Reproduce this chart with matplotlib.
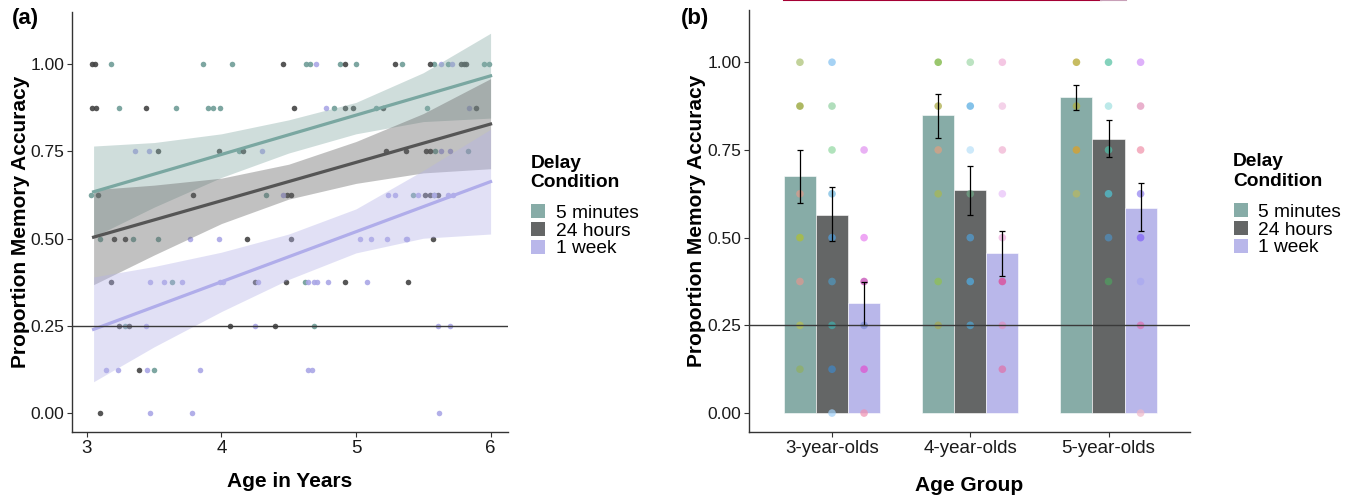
import matplotlib.pyplot as plt
from matplotlib.patches import Patch
from matplotlib.lines import Line2D
import numpy as np

plt.rcParams['font.family'] = ['Liberation Sans', 'DejaVu Sans']

# ---- panel (a): accuracy by age, per delay condition ----
age_5min = [3.18, 3.86, 4.08, 4.63, 4.66, 4.88, 5.00, 5.34, 5.58, 5.68, 5.95, 5.99,
            3.24, 3.66, 3.90, 3.94, 3.99, 4.84, 5.15, 5.53,
            4.13, 5.59, 5.83,
            3.03, 4.33, 5.42, 5.58,
            3.10, 3.34, 3.53,
            3.63, 4.62,
            3.28, 4.69,
            3.50]
acc_5min = [1.0] * 12 + [0.875] * 8 + [0.75] * 3 + [0.625] * 4 + [0.5] * 3 + [0.375] * 2 + [0.25] * 2 + [0.125]

age_24h = [3.04, 3.06, 4.46, 4.92, 5.29, 5.55, 5.78, 5.80, 5.82,
           3.04, 3.07, 3.44, 4.54, 4.92, 4.98, 5.20, 5.89,
           3.53, 3.98, 4.16, 5.22, 5.37, 5.52, 5.55,
           3.08, 3.79, 4.49, 4.52, 5.51, 5.55, 5.61,
           3.20, 3.28, 4.19, 4.52, 5.57,
           3.18, 4.25, 4.48, 4.92, 5.39,
           3.24, 3.31, 4.06, 4.40,
           3.39,
           3.10]
acc_24h = [1.0] * 9 + [0.875] * 8 + [0.75] * 7 + [0.625] * 7 + [0.5] * 5 + [0.375] * 5 + [0.25] * 4 + [0.125] + [0.0]

age_1wk = [4.70, 5.63, 5.71,
           4.78, 5.84,
           3.36, 3.46, 4.30, 5.63, 5.70,
           4.46, 5.24, 5.29, 5.46, 5.58, 5.68, 5.72,
           3.77, 3.98, 5.03, 5.11, 5.23, 5.37, 5.38,
           3.47, 3.57, 3.71, 3.99, 4.01, 4.27, 4.64, 4.69, 4.71, 4.79, 5.08,
           3.44, 4.25, 5.61, 5.70,
           3.14, 3.23, 3.45, 3.84, 4.64, 4.67,
           3.47, 3.78, 5.62]
acc_1wk = [1.0] * 3 + [0.875] * 2 + [0.75] * 5 + [0.625] * 7 + [0.5] * 7 + [0.375] * 11 + [0.25] * 4 + [0.125] * 6 + [0.0] * 3

# fitted lines and confidence bands
fit_x = [3.05, 6.0]
fit_5min = [0.634, 0.966]
fit_24h = [0.504, 0.828]
fit_1wk = [0.240, 0.663]

band_x = [3.05, 3.5, 4.0, 4.5, 5.0, 5.5, 6.0]
lo_5min = [0.505, 0.590, 0.675, 0.745, 0.800, 0.835, 0.845]
hi_5min = [0.765, 0.775, 0.800, 0.840, 0.890, 0.975, 1.088]
lo_24h = [0.368, 0.453, 0.543, 0.613, 0.658, 0.688, 0.700]
hi_24h = [0.640, 0.653, 0.673, 0.713, 0.778, 0.858, 0.958]
lo_1wk = [0.090, 0.190, 0.291, 0.383, 0.459, 0.501, 0.513]
hi_1wk = [0.390, 0.420, 0.461, 0.513, 0.585, 0.695, 0.813]

# ---- panel (b): mean accuracy by age group ----
groups = ['3-year-olds', '4-year-olds', '5-year-olds']
mean_5min = [0.675, 0.850, 0.900]
mean_24h = [0.565, 0.635, 0.780]
mean_1wk = [0.315, 0.455, 0.585]
err_lo_5min = [0.600, 0.785, 0.865]
err_hi_5min = [0.750, 0.910, 0.935]
err_lo_24h = [0.490, 0.565, 0.730]
err_hi_24h = [0.645, 0.705, 0.835]
err_lo_1wk = [0.250, 0.390, 0.520]
err_hi_1wk = [0.375, 0.520, 0.655]

# individual dots: values and colours per bar
dots_3_5min = [1.0, 0.875, 0.625, 0.5, 0.375, 0.25, 0.125]
cols_3_5min = ['#a8c070', '#8a9a20', '#e09a8a', '#b0c030', '#e09890', '#b8c050', '#90b060']
dots_3_24h = [1.0, 0.875, 0.75, 0.625, 0.5, 0.375, 0.25, 0.125, 0.0]
cols_3_24h = ['#80c0f0', '#90d0a0', '#90d8a0', '#70b8e0', '#50a0e0', '#5098c0', '#40b0b0', '#4088c8', '#a0d0f8']
dots_3_1wk = [0.75, 0.5, 0.375, 0.25, 0.125, 0.0]
cols_3_1wk = ['#e090f0', '#e880f0', '#c040b0', '#8090d8', '#e050d0', '#f090b0']
dots_4_5min = [1.0, 0.875, 0.75, 0.625, 0.375, 0.25]
cols_4_5min = ['#70b030', '#a8a840', '#e0a080', '#a8b850', '#90c050', '#a8a850']
dots_4_24h = [1.0, 0.875, 0.75, 0.625, 0.5, 0.375, 0.25]
cols_4_24h = ['#a0d8a8', '#50a8e0', '#b8e0f8', '#70a888', '#50a0d8', '#50b0e8', '#50a8d8']
dots_4_1wk = [1.0, 0.875, 0.75, 0.625, 0.5, 0.375, 0.25, 0.125]
cols_4_1wk = ['#f0b0d8', '#f0c0e0', '#f0b0d0', '#e8c0f8', '#f0b0e0', '#e04090', '#e090c0', '#e070a8']
dots_5_5min = [1.0, 0.875, 0.75, 0.625]
cols_5_5min = ['#b0a020', '#b0b040', '#e0a020', '#b8b860']
dots_5_24h = [1.0, 0.875, 0.75, 0.625, 0.5, 0.375]
cols_5_24h = ['#50c0a0', '#a0e0e0', '#50c0a8', '#50c8d8', '#5090c0', '#50a060']
dots_5_1wk = [1.0, 0.875, 0.75, 0.625, 0.5, 0.375, 0.25, 0.0]
cols_5_1wk = ['#d090f8', '#e090b8', '#f090a8', '#9080f0', '#8060f8', '#a8a8f0', '#e070b0', '#f0b8c8']

conditions = ['5 minutes', '24 hours', '1 week']
bar_colors = ['#87aca7', '#646666', '#b9b7ea']
line_colors = ['#7aa7a1', '#555555', '#b0adea']
point_colors = ['#6f9d97', '#444444', '#aaa7e6']

fig = plt.figure(figsize=(13.57, 4.98), dpi=100)
ax1 = fig.add_axes([0.0531, 0.1325, 0.3213, 0.8435])
ax2 = fig.add_axes([0.552, 0.1325, 0.325, 0.8475])

# panel (a)
ax1.scatter(age_5min, acc_5min, s=16, color=point_colors[0], alpha=0.9, linewidths=0, zorder=2)
ax1.scatter(age_24h, acc_24h, s=16, color=point_colors[1], alpha=0.9, linewidths=0, zorder=2)
ax1.scatter(age_1wk, acc_1wk, s=16, color=point_colors[2], alpha=0.9, linewidths=0, zorder=2)

ax1.fill_between(band_x, lo_5min, hi_5min, color=bar_colors[0], alpha=0.4, linewidth=0, zorder=3)
ax1.fill_between(band_x, lo_24h, hi_24h, color='#666666', alpha=0.4, linewidth=0, zorder=3)
ax1.fill_between(band_x, lo_1wk, hi_1wk, color='#b5b3e8', alpha=0.4, linewidth=0, zorder=3)
ax1.plot(fit_x, fit_5min, color=line_colors[0], lw=2.3, zorder=4)
ax1.plot(fit_x, fit_24h, color=line_colors[1], lw=2.3, zorder=4)
ax1.plot(fit_x, fit_1wk, color=line_colors[2], lw=2.3, zorder=4)
ax1.axhline(0.25, color='#3a3a3a', lw=1, zorder=5)

ax1.set_xlim(2.89, 6.13)
ax1.set_ylim(-0.054, 1.149)
ax1.set_xticks([3, 4, 5, 6])
ax1.set_yticks([0, 0.25, 0.5, 0.75, 1.0])
ax1.set_yticklabels(['0.00', '0.25', '0.50', '0.75', '1.00'])
ax1.set_xlabel('Age in Years', fontsize=15, fontweight='bold', labelpad=11)

# panel (b)
x = np.arange(1, len(groups) + 1)
w = 0.232
means = [mean_5min, mean_24h, mean_1wk]
lows = [err_lo_5min, err_lo_24h, err_lo_1wk]
highs = [err_hi_5min, err_hi_24h, err_hi_1wk]
for k in range(3):
    xs = x + (k - 1) * w
    ax2.bar(xs, means[k], width=w, color=bar_colors[k], edgecolor='white', linewidth=0.4, zorder=2)

dot_sets = [[(dots_3_5min, cols_3_5min), (dots_3_24h, cols_3_24h), (dots_3_1wk, cols_3_1wk)],
            [(dots_4_5min, cols_4_5min), (dots_4_24h, cols_4_24h), (dots_4_1wk, cols_4_1wk)],
            [(dots_5_5min, cols_5_5min), (dots_5_24h, cols_5_24h), (dots_5_1wk, cols_5_1wk)]]
for g in range(3):
    for k in range(3):
        vals, cols = dot_sets[g][k]
        ax2.scatter([x[g] + (k - 1) * w] * len(vals), vals, s=30, c=cols, alpha=0.7,
                    linewidths=0, zorder=3)

for k in range(3):
    xs = x + (k - 1) * w
    m = np.array(means[k])
    yerr = [m - np.array(lows[k]), np.array(highs[k]) - m]
    ax2.errorbar(xs, m, yerr=yerr, fmt='none', ecolor='black', elinewidth=0.9,
                 capsize=2.5, capthick=0.9, zorder=4)
ax2.axhline(0.25, color='#3a3a3a', lw=1, zorder=5)

ax2.set_xlim(0.40, 3.59)
ax2.set_ylim(-0.054, 1.149)
ax2.set_xticks(x)
ax2.set_xticklabels(groups)
ax2.set_yticks([0, 0.25, 0.5, 0.75, 1.0])
ax2.set_yticklabels(['0.00', '0.25', '0.50', '0.75', '1.00'])
ax2.set_xlabel('Age Group', fontsize=15, fontweight='bold', labelpad=14)

for ax, lx, legx in ((ax1, -0.096, 1.053), (ax2, -0.097, 1.0998)):
    for side in ('top', 'right'):
        ax.spines[side].set_visible(False)
    for side in ('left', 'bottom'):
        ax.spines[side].set_color('#333333')
        ax.spines[side].set_linewidth(1.0)
    ax.tick_params(axis='both', colors='#333333', labelcolor='#1a1a1a',
                   length=3.5, width=0.8, pad=2)
    ax.tick_params(axis='x', labelsize=13.5)
    ax.tick_params(axis='y', labelsize=12.5)
    ax.set_ylabel('Proportion Memory Accuracy', fontsize=15, fontweight='bold')
    ax.yaxis.set_label_coords(lx, 0.5)

    ax.text(legx - 0.002, 0.66, 'Delay\nCondition', transform=ax.transAxes,
            fontsize=13.8, fontweight='bold', va='top', ha='left', linespacing=1.2)
    handles = [Patch(facecolor=c, edgecolor='none') for c in bar_colors]
    ax.legend(handles, conditions, frameon=False,
              loc='upper left', bbox_to_anchor=(legx, 0.542),
              borderaxespad=0, borderpad=0, fontsize=13.8,
              handlelength=0.72, handleheight=0.75, labelspacing=0.0,
              handletextpad=0.55)

fig.text(0.009, 0.962, '(a)', fontsize=16, fontweight='bold', va='center')
fig.text(0.502, 0.962, '(b)', fontsize=16, fontweight='bold', va='center')

# thin coloured strip at the top edge of the original image
fig.add_artist(Line2D([0.578, 0.811], [0.999, 0.999], color='#a50034', lw=1.5))
fig.add_artist(Line2D([0.811, 0.830], [0.999, 0.999], color='#c8a0b8', lw=1.5))

fig.savefig('out.png', dpi=100)
